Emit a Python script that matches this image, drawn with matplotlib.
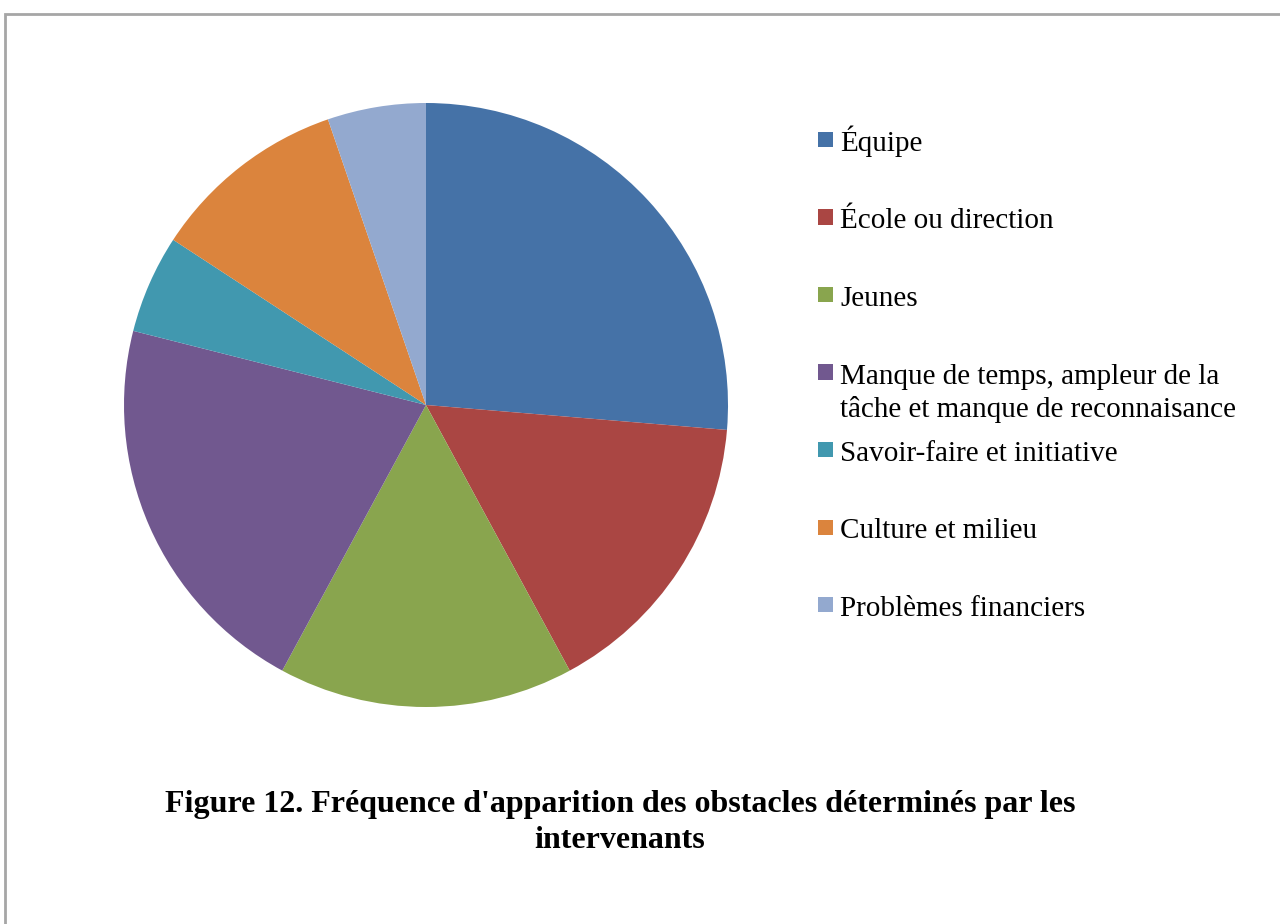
import matplotlib.pyplot as plt
from matplotlib.patches import Rectangle

# obstacle counts (out of 19 mentions)
labels = ["Équipe", "École ou direction", "Jeunes",
          "Manque de temps, ampleur de la\ntâche et manque de reconnaisance",
          "Savoir-faire et initiative", "Culture et milieu",
          "Problèmes financiers"]
counts = [5, 3, 3, 4, 1, 2, 1]
colors = ["#4572A7", "#AA4643", "#89A54E", "#71588F",
          "#4198AF", "#DB843D", "#93A9CF"]
title = "Figure 12. Fréquence d'apparition des obstacles déterminés par les\nintervenants"

W, H = 1280, 924
plt.rcParams['font.family'] = ['Liberation Serif', 'DejaVu Serif']
fig = plt.figure(figsize=(W / 100, H / 100), dpi=100)

# outer frame (only top/left visible in the crop)
fig.add_artist(Rectangle((5 / W, -0.1), 1.2, (H - 14) / H + 0.1,
                         transform=fig.transFigure, fill=False,
                         edgecolor="#a6a6a6", linewidth=2))

cx, cy, r = 426, 405, 302
ax = fig.add_axes([(cx - r) / W, (H - cy - r) / H, 2 * r / W, 2 * r / H])
ax.pie(counts, colors=colors, startangle=90, counterclock=False,
       wedgeprops=dict(linewidth=0))
ax.set_xlim(-1, 1)
ax.set_ylim(-1, 1)
ax.set_aspect('auto')
ax.axis('off')

# legend drawn by hand: marker on the first line of each label
base = 151
step = 77.5
line_h = 33
for i, (lab, col) in enumerate(zip(labels, colors)):
    yb = base + i * step
    fig.add_artist(Rectangle((818 / W, (H - yb + 4) / H), 15 / W, 15 / H,
                             transform=fig.transFigure, facecolor=col,
                             edgecolor='none'))
    for k, line in enumerate(lab.split("\n")):
        fig.text(840 / W, (H - yb - k * line_h) / H, line, fontsize=21,
                 va='baseline', ha='left', color='black')

for k, line in enumerate(title.split("\n")):
    fig.text(620 / W, (H - 812 - k * 36) / H, line, fontsize=23,
             fontweight='bold', va='baseline', ha='center')

fig.savefig("out.png", dpi=100)
